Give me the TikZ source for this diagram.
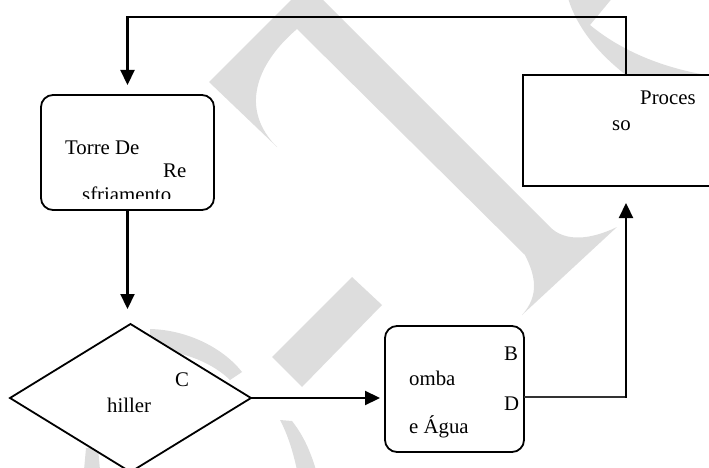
\documentclass[tikz,border=0pt]{standalone}
\usepackage{fontspec}
\setmainfont{Liberation Serif}
\usetikzlibrary{arrows.meta,shapes.geometric}
\definecolor{wmgray}{RGB}{221,221,221}
\begin{document}
\begin{tikzpicture}[x=1pt,y=-1pt,
  rbox/.style={draw, line width=1.8pt, rounded corners=12pt, fill=white, inner sep=0pt, outer sep=0pt},
  pbox/.style={draw, line width=1.8pt, fill=white, inner sep=0pt, outer sep=0pt},
  dbox/.style={draw, diamond, line width=1.8pt, fill=white, inner sep=0pt, outer sep=0pt},
  lbl/.style={anchor=base west, inner sep=0pt, font=\fontsize{20.8}{24}\selectfont},
  flow/.style={line width=2.2pt, -{Triangle[length=15pt,width=14pt]}},
  thinflow/.style={line width=1.3pt, draw=black!80},
  wm/.style={fill=wmgray}]
\useasboundingbox (0,0) rectangle (709,468);
\clip (0,0) rectangle (709,468);
% watermark
\fill[wm] (209,82) -- (301,-10) -- (313,-10) -- (550,227)
  .. controls (565,242) and (590,240) .. (617,227) -- (522,315)
  .. controls (540,295) and (535,275) .. (525,255) -- (297,29)
  .. controls (255,65) and (240,110) .. (277,147) -- cycle;
\fill[wm] (352,277) -- (382,305) -- (302,387) -- (272,357) -- cycle;
\fill[wm] (566,-10) .. controls (572,20) and (595,55) .. (640,85) -- (720,100) -- (720,77)
  .. controls (680,72) and (630,58) .. (590,25) -- (619,-10) -- cycle;
\fill[wm] (150,329) .. controls (190,330) and (225,350) .. (242,372) -- (230,380)
  .. controls (215,365) and (185,350) .. (150,350) -- cycle;
\fill[wm] (280,420) -- (292,421) .. controls (303,435) and (310,450) .. (316,470) -- (297,470)
  .. controls (293,452) and (288,435) .. cycle;
\fill[wm] (86,448) -- (98,448) -- (100,470) -- (84,470) -- cycle;
% shapes
\node[rbox, minimum width=173pt, minimum height=115pt] (torre) at (127.5,152.5) {};
\node[pbox, minimum width=206pt, minimum height=111pt] (proc) at (626,130.5) {};
\node[dbox, minimum width=241pt, minimum height=148pt] (chiller) at (130.5,398) {};
\node[rbox, minimum width=139pt, minimum height=126pt] (bomba) at (454.5,389) {};
% texts
\node[lbl] (t1) at (65,154) {Torre De};
\node[lbl] (t2) at (163,177) {Re};
\begin{scope}
\clip (0,0) rectangle (709,198.5);
\node[lbl] (t3) at (82,201) {sfriamento};
\end{scope}
\node[lbl] (p1) at (640,105) {Proces};
\node[lbl] (p2) at (612,131) {so};
\node[lbl] (c1) at (175,386) {C};
\node[lbl] (c2) at (107,412) {hiller};
\node[lbl] (b1) at (504,360) {B};
\node[lbl] (b2) at (409,385) {omba};
\node[lbl] (b3) at (504,410) {D};
\node[lbl] (b4) at (409,433) {e Água};
% connectors
\draw[flow, shorten >=10pt] (proc.north) -- ++(0,-58) -| (torre.north);
\draw[flow, shorten >=15pt] (torre.south) -- (torre.south |- chiller.north);
\draw[flow, shorten >=5pt] (chiller.east) -- (chiller.east -| bomba.west);
\coordinate (bout) at ([yshift=-8pt]bomba.east);
\coordinate (bcorner) at (bout -| proc.south);
\draw[thinflow] (bout) -- (bcorner);
\draw[flow, shorten >=17pt] ([yshift=-0.6pt]bcorner) -- (proc.south);
\end{tikzpicture}
\end{document}
